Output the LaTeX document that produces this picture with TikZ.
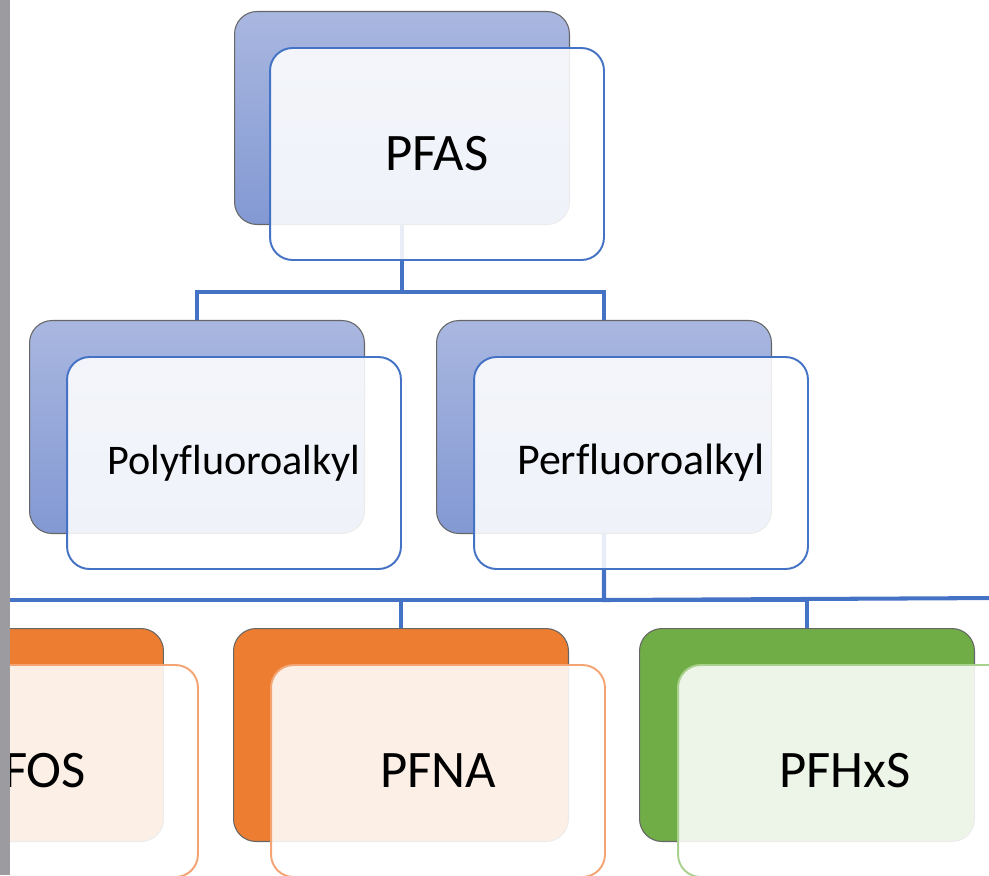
\documentclass[tikz,border=0pt]{standalone}
\usepackage{fontspec}
\setmainfont{Carlito}[Ligatures=CommonOff]
\definecolor{lineblue}{HTML}{4472C4}
\definecolor{backtop}{HTML}{A9B7E0}
\definecolor{backbot}{HTML}{8399D3}
\definecolor{orangeback}{HTML}{ED7D31}
\definecolor{orangeline}{HTML}{F4A472}
\definecolor{greenback}{HTML}{70AD47}
\definecolor{greenline}{HTML}{A9D18E}
\definecolor{edgegrey}{HTML}{9C9CA0}
\begin{document}
\begin{tikzpicture}[x=0.02cm,y=-0.02cm,
	back/.style = {draw = black!60, line width = 0.6pt, rounded corners = 0.45cm,
		minimum width = 6.7cm, minimum height = 4.26cm},
	card/.style = {draw = #1, line width = 1.1pt, rounded corners = 0.45cm,
		fill = white, fill opacity = 0.88, text opacity = 1, text = black,
		minimum width = 6.68cm, minimum height = 4.24cm,
		font = \fontsize{30}{35}\selectfont},
	link/.style = {draw = lineblue, line width = 2.3pt}]
	\useasboundingbox (0,0) rectangle (989,875);
	\clip (0,0) rectangle (989,875);

	% back boxes
	\node[back, top color = backtop, bottom color = backbot] (pfasB) at (402,118) {};
	\node[back, top color = backtop, bottom color = backbot] (polyB) at (197,427) {};
	\node[back, top color = backtop, bottom color = backbot] (perfB) at (604,427) {};
	\node[back, fill = orangeback] (pfosB) at (-4,735) {};
	\node[back, fill = orangeback] (pfnaB) at (401,735) {};
	\node[back, fill = greenback] (pfhxsB) at (807,735) {};

	% connectors
	\coordinate (rightend) at (1000,598);
	\draw[link] (pfasB.south) -- ++(0,67) -| (polyB.north);
	\draw[link] (pfasB.south) -- ++(0,67) -| (perfB.north);
	\draw[link] (perfB.south) -- ++(0,66) -| (pfosB.north);
	\draw[link] (perfB.south) -- ++(0,66) -| (pfnaB.north);
	\draw[link] (perfB.south) -- ++(0,66) -| (pfhxsB.north);
	\draw[link] (perfB.south) -- ++(0,66) -- (rightend);

	% front boxes
	\node[card = lineblue] (pfas) at (437,154) {PFAS};
	\node[card = lineblue, font = \fontsize{24}{28}\selectfont] (poly) at (234,463) {Polyfluoroalkyl};
	\node[card = lineblue, font = \fontsize{25}{29}\selectfont] (perf) at (641,463) {Perfluoroalkyl};
	\node[card = orangeline] (pfos) at (31,771) {PFOS};
	\node[card = orangeline] (pfna) at (438,771) {PFNA};
	\node[card = greenline] (pfhxs) at (845,771) {PFHxS};

	\fill[edgegrey] (0,0) rectangle (10,875);
\end{tikzpicture}
\end{document}
